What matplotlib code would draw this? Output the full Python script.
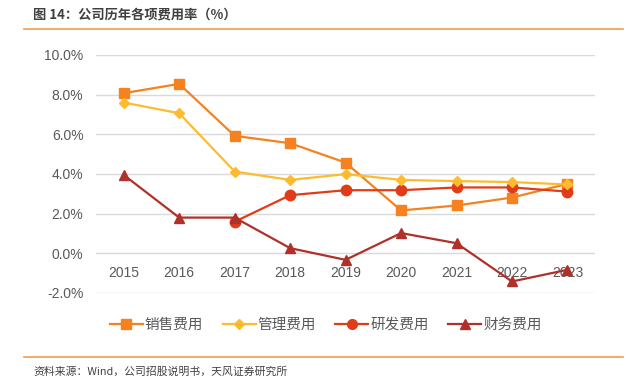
import matplotlib.pyplot as plt
from matplotlib.lines import Line2D

plt.rcParams['font.family'] = ['Noto Sans CJK SC', 'DejaVu Sans']

years = ['2015', '2016', '2017', '2018', '2019', '2020', '2021', '2022', '2023']
sales = [8.07, 8.54, 5.92, 5.55, 4.57, 2.16, 2.41, 2.81, 3.50]
admin = [7.60, 7.06, 4.12, 3.70, 3.99, 3.70, 3.64, 3.59, 3.47]
rnd_years = ['2017', '2018', '2019', '2020', '2021', '2022', '2023']
rnd = [1.59, 2.93, 3.18, 3.18, 3.32, 3.32, 3.11]
finance = [3.95, 1.80, 1.80, 0.26, -0.33, 1.02, 0.51, -1.42, -0.83]
yticks = [-2, 0, 2, 4, 6, 8, 10]

c_sales = '#F5821F'
c_admin = '#FDBB2F'
c_rnd = '#E03C1A'
c_fin = '#B0302A'

fig = plt.figure(figsize=(6.4, 3.84), dpi=100)
ax = fig.add_axes([0.15, 0.237, 0.78, 0.62])

x = list(range(len(years)))
xr = [years.index(y) for y in rnd_years]

ax.plot(x, sales, color=c_sales, lw=1.6, marker='s', ms=7.5, label='销售费用', zorder=3)
ax.plot(x, admin, color=c_admin, lw=1.6, marker='D', ms=5, label='管理费用', zorder=4)
ax.plot(xr, rnd, color=c_rnd, lw=1.6, marker='o', ms=7.5, label='研发费用', zorder=3)
ax.plot(x, finance, color=c_fin, lw=1.6, marker='^', ms=7, label='财务费用', zorder=5)

ax.set_xlim(-0.5, len(years) - 0.5)
ax.set_ylim(-2, 10)
ax.set_yticks(yticks)
ax.set_yticklabels([f'{v:.1f}%' for v in yticks])
ax.set_xticks(x)
ax.set_xticklabels(years)
ax.grid(axis='y', color='#D9D9D9', lw=1)
ax.set_axisbelow(True)
for s in ['top', 'right', 'left']:
    ax.spines[s].set_visible(False)
ax.spines['bottom'].set_position(('data', 0))
ax.spines['bottom'].set_visible(False)
ax.tick_params(axis='both', length=0, labelsize=10, labelcolor='#595959')
ax.tick_params(axis='x', pad=9)
ax.tick_params(axis='y', pad=9)
for t in ax.get_xticklabels() + ax.get_yticklabels():
    t.set_family(['Liberation Sans', 'DejaVu Sans'])

handles = [
    Line2D([], [], color=c_sales, lw=1.6, marker='s', ms=7),
    Line2D([], [], color=c_admin, lw=1.6, marker='D', ms=5),
    Line2D([], [], color=c_rnd, lw=1.6, marker='o', ms=7),
    Line2D([], [], color=c_fin, lw=1.6, marker='^', ms=7),
]
fig.legend(handles, ['销售费用', '管理费用', '研发费用', '财务费用'],
           loc='center', bbox_to_anchor=(0.509, 0.154), ncol=4, frameon=False,
           fontsize=10.5, labelcolor='#595959', handlelength=2.26,
           columnspacing=1.33, handletextpad=0.14)

fig.text(0.052, 0.961, '图 14：公司历年各项费用率（%）', fontsize=9.5, fontweight='bold',
         color='#404040', va='center')
fig.add_artist(Line2D([0.0375, 0.973], [0.9245, 0.9245], color='#F39A4C', lw=1.2))
fig.add_artist(Line2D([0.0375, 0.973], [0.0711, 0.0711], color='#F39A4C', lw=1.2))
fig.text(0.052, 0.0326, '资料来源：Wind，公司招股说明书，天风证券研究所', fontsize=7.8,
         color='#404040', va='center')

fig.savefig('out.png', dpi=100)
